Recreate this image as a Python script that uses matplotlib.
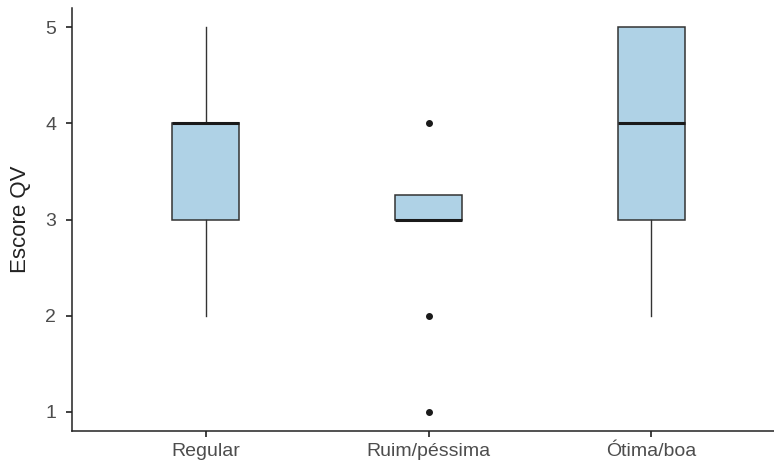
import matplotlib.pyplot as plt

plt.rcParams['font.family'] = ['Liberation Sans', 'DejaVu Sans']

categorias = ['Regular', 'Ruim/péssima', 'Ótima/boa']
q1 = [3, 3, 3]
mediana = [4, 3, 4]
q3 = [4, 3.25, 5]
whisk_lo = [2, 3, 2]
whisk_hi = [5, 3.25, 5]
outliers = [[], [4, 2, 1], []]

stats = []
for i in range(len(categorias)):
    stats.append({'label': categorias[i], 'q1': q1[i], 'med': mediana[i], 'q3': q3[i],
                  'whislo': whisk_lo[i], 'whishi': whisk_hi[i], 'fliers': outliers[i]})

fig = plt.figure(figsize=(7.74, 4.75), dpi=100)
W, H = 774, 475
ax = fig.add_axes([72/W, 1-431.25/H, 1-72/W, (431.25-7.75)/H])

ax.bxp(stats, positions=[1, 2, 3], widths=0.3, patch_artist=True, showcaps=False,
       boxprops=dict(facecolor='#AFD2E6', edgecolor='#333333', linewidth=1.1),
       medianprops=dict(color='#1a1a1a', linewidth=2.2),
       whiskerprops=dict(color='#333333', linewidth=1.0),
       flierprops=dict(marker='o', markersize=4, markerfacecolor='#1a1a1a',
                       markeredgecolor='#1a1a1a'))

ax.set_xlim(0.4, 3.55)
ax.set_ylim(0.8, 5.2)
ax.set_yticks([1, 2, 3, 4, 5])
ax.set_xticks([1, 2, 3])
ax.set_xticklabels(categorias)
ax.set_ylabel('Escore QV', fontsize=16, color='#222222', labelpad=10)
ax.tick_params(axis='both', labelsize=14, labelcolor='#4D4D4D', color='#333333',
               length=4.3, width=1.3)
ax.tick_params(axis='x', pad=4)
ax.tick_params(axis='y', pad=7)

for s in ['top', 'right']:
    ax.spines[s].set_visible(False)
for s in ['left', 'bottom']:
    ax.spines[s].set_color('#222222')
    ax.spines[s].set_linewidth(1.1)

fig.savefig('out.png', dpi=100)
